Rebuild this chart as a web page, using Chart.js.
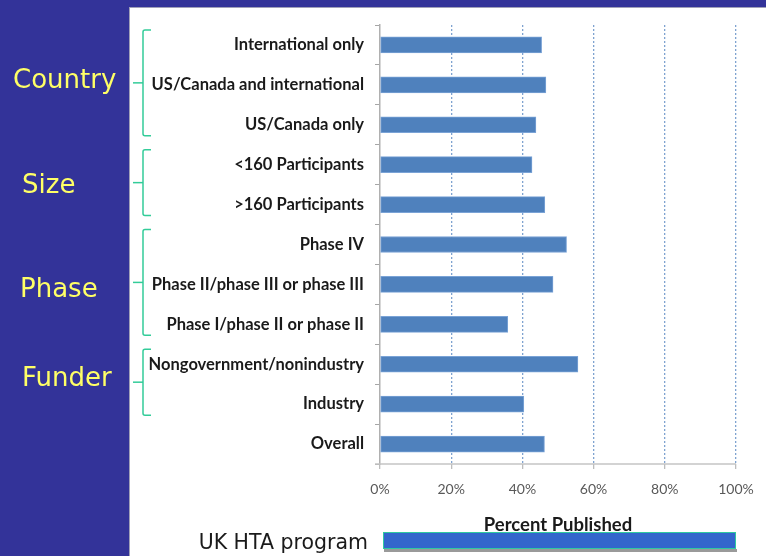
<!DOCTYPE html>
<html><head><meta charset="utf-8">
<script src="https://cdn.jsdelivr.net/npm/chart.js@4"></script>
<style>html,body{margin:0;padding:0;background:#fff;}#wrap{width:766px;height:556px;position:relative;}</style>
</head><body><div id="wrap"><canvas id="c" width="766" height="556"></canvas></div>
<script>
const categories = ['International only','US/Canada and international','US/Canada only','<160 Participants','>160 Participants','Phase IV','Phase II/phase III or phase III','Phase I/phase II or phase II','Nongovernment/nonindustry','Industry','Overall'];
const percentPublished = [45.4, 46.6, 43.8, 42.7, 46.3, 52.4, 48.6, 35.9, 55.6, 40.4, 46.2];
const groupNames = ['Country','Size','Phase','Funder'];
const groupStart = [0, 3, 5, 8];
const groupEnd = [2, 4, 7, 9];
const xTicks = [0, 20, 40, 60, 80, 100];
const axisTitle = 'Percent Published';
const footerLabel = 'UK HTA program';

const groupLabelLeft = [13, 22, 20, 22];
const groupLabelShift = [-2, 4, 8, -3];

const decor = {
  id: 'decor',
  beforeDraw(chart) {
    const ctx = chart.ctx;
    ctx.save();
    ctx.fillStyle = '#333399';
    ctx.fillRect(0, 0, 129, 556);
    ctx.fillRect(0, 0, 766, 7);
    ctx.fillStyle = '#a0a0b8';
    ctx.fillRect(129, 7, 637, 1);
    ctx.fillRect(129, 7, 1, 549);
    ctx.restore();
  },
  afterDraw(chart) {
    const ctx = chart.ctx;
    const y = chart.scales.y;
    const x = chart.scales.x;
    const ca = chart.chartArea;
    ctx.save();
    // x axis baseline (solid light grey)
    ctx.strokeStyle = '#c4c4c4';
    ctx.lineWidth = 1.5;
    ctx.beginPath();
    ctx.moveTo(ca.left - 5, ca.bottom);
    ctx.lineTo(ca.right, ca.bottom);
    ctx.stroke();

    ctx.strokeStyle = '#33cc99';
    ctx.lineWidth = 1.5;
    ctx.fillStyle = '#ffff66';
    ctx.font = '26px "DejaVu Sans", Verdana, sans-serif';
    ctx.textBaseline = 'middle';
    ctx.textAlign = 'left';
    for (let g = 0; g < groupNames.length; g++) {
      const top = y.getPixelForValue(groupStart[g]) - 15;
      const bot = y.getPixelForValue(groupEnd[g]) + 11;
      const mid = (top + bot) / 2;
      ctx.beginPath();
      ctx.moveTo(151, top);
      ctx.lineTo(145, top);
      ctx.quadraticCurveTo(143, top, 143, top + 2);
      ctx.lineTo(143, bot - 2);
      ctx.quadraticCurveTo(143, bot, 145, bot);
      ctx.lineTo(151, bot);
      ctx.stroke();
      ctx.beginPath();
      ctx.moveTo(133, mid);
      ctx.lineTo(143, mid);
      ctx.stroke();
      ctx.fillText(groupNames[g], groupLabelLeft[g], mid + groupLabelShift[g]);
    }
    const l = x.getPixelForValue(0) + 3, r = x.getPixelForValue(100);
    ctx.fillStyle = '#9a9a9a';
    ctx.fillRect(l + 1, 549, r - l, 3);
    ctx.fillStyle = '#3366cc';
    ctx.fillRect(l, 532, r - l, 17);
    ctx.strokeStyle = '#2fc9a0';
    ctx.lineWidth = 1;
    ctx.strokeRect(l + 0.5, 532.5, r - l - 1, 16);
    ctx.fillStyle = '#1a1a1a';
    ctx.font = '20.5px "DejaVu Sans", Verdana, sans-serif';
    ctx.textAlign = 'right';
    ctx.textBaseline = 'alphabetic';
    ctx.fillText(footerLabel, 368, 549);
    ctx.restore();
  }
};

new Chart(document.getElementById('c'), {
  type: 'bar',
  data: {
    labels: categories,
    datasets: [{
      data: percentPublished,
      backgroundColor: '#4f81bd',
      borderColor: '#7aa3d6',
      borderWidth: 1,
      borderSkipped: false,
      barThickness: 16
    }]
  },
  options: {
    indexAxis: 'y',
    responsive: false,
    animation: false,
    events: [],
    layout: { padding: { left: 130, right: 30, top: 25, bottom: 0 } },
    plugins: { legend: { display: false }, tooltip: { enabled: false } },
    scales: {
      x: {
        min: 0, max: 100,
        afterBuildTicks(s) { s.ticks = xTicks.map(v => ({ value: v })); },
        afterFit(s) { s.height = 92; },
        border: { display: false, color: '#c4c4c4', width: 1.5, dash: [2, 2] },
        grid: {
          color: (c) => c.tick && c.tick.value === 0 ? 'rgba(0,0,0,0)' : '#7fa3d0',
          lineWidth: 1.3,
          tickLength: 5,
          tickColor: '#bdbdbd'
        },
        ticks: {
          callback: v => v + '%',
          color: '#595959',
          font: { family: 'Lato, "Open Sans", sans-serif', size: 14 },
          padding: 12
        },
        title: {
          display: true,
          text: axisTitle,
          color: '#1a1a1a',
          font: { family: 'Lato, "Open Sans", sans-serif', size: 18.5, weight: 'bold' },
          padding: { top: 0, bottom: 20 }
        }
      },
      y: {
        afterFit(s) { s.width = 250; },
        border: { display: true, color: '#b0b0b0', width: 1.5 },
        grid: { drawOnChartArea: false, tickLength: 5, tickColor: '#a6a6a6', offset: true },
        ticks: {
          color: '#1a1a1a',
          font: { family: 'Lato, "Open Sans", sans-serif', size: 16.5, weight: 'bold' },
          padding: 11
        }
      }
    }
  },
  plugins: [decor]
});
</script>
</body></html>
